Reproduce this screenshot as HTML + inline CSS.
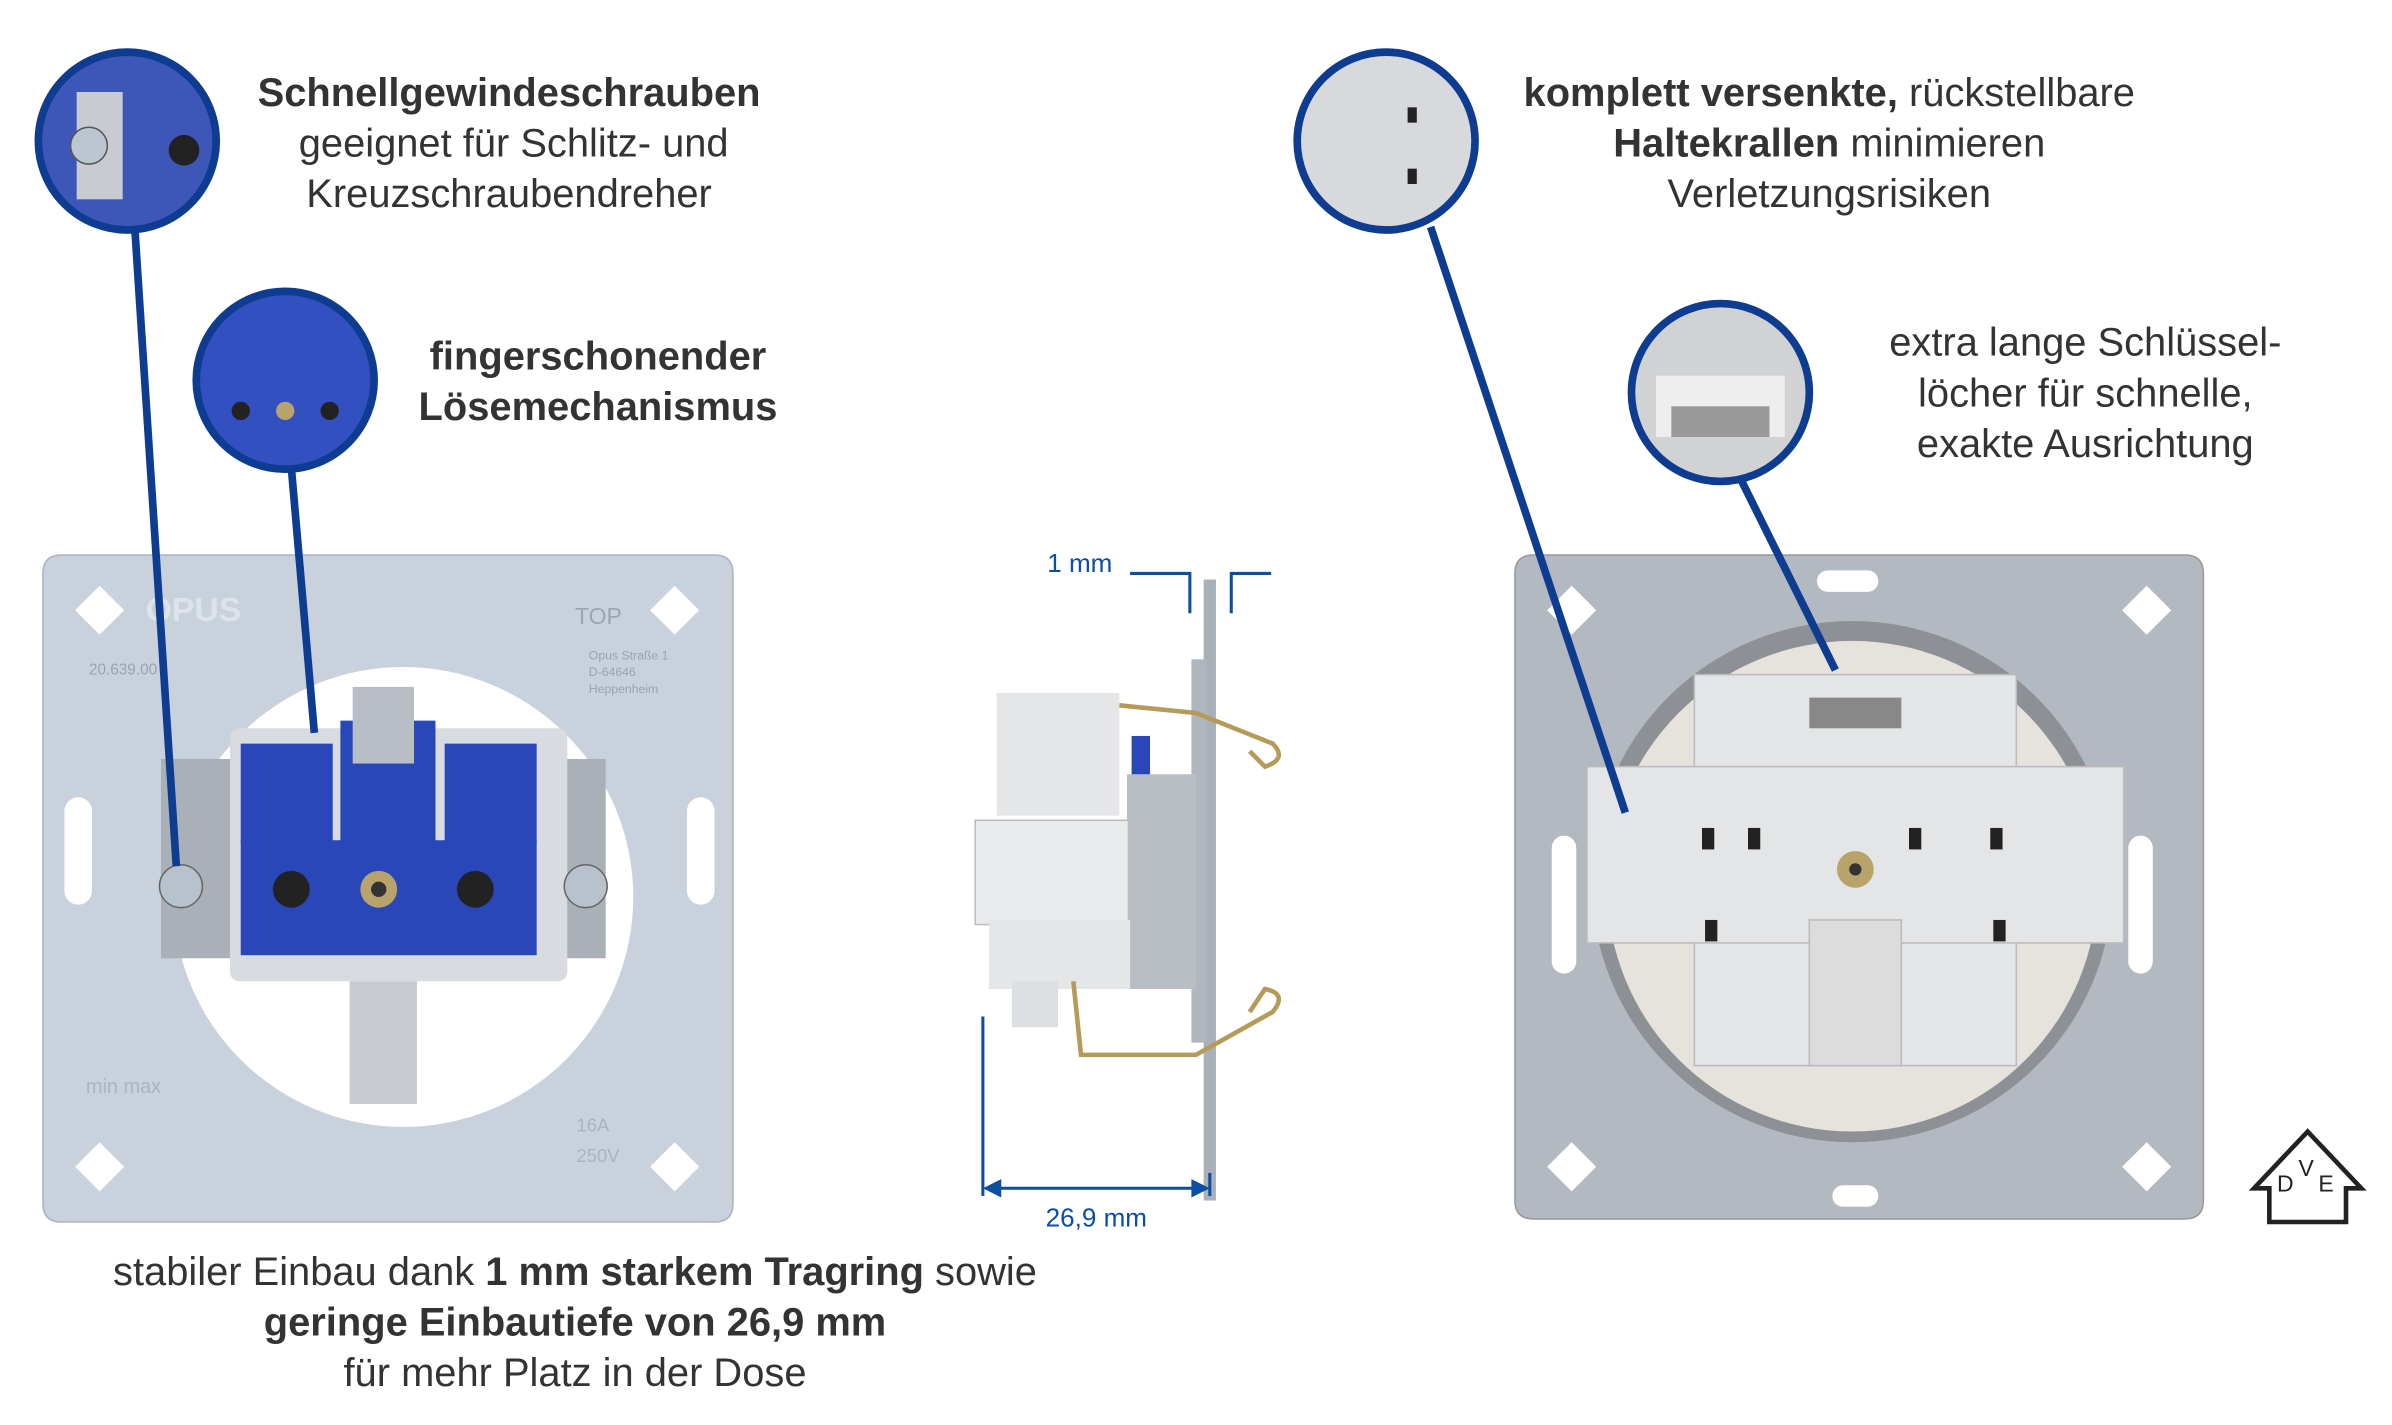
<!DOCTYPE html>
<html><head><meta charset="utf-8"><style>
html,body{margin:0;padding:0;background:#fff;}
svg{display:block;}
text{font-family:"Liberation Sans",sans-serif;fill:#333;}
</style></head><body>
<svg width="2392" height="1425" viewBox="0 0 1560 929.4" preserveAspectRatio="none" xmlns="http://www.w3.org/2000/svg">
<!-- left plate -->
<path d="M40 362 H466 Q478 362 478 374 V785 Q478 797 466 797 H40 Q28 797 28 785 V374 Q28 362 40 362Z" fill="#c9d2dc" stroke="#aab4c0"/>
<circle cx="263" cy="585" r="150" fill="#fff"/>
<g fill="#fff"><path d="M65 382 l16 16 -16 16 -16 -16z"/><path d="M440 382 l16 16 -16 16 -16 -16z"/><path d="M65 745 l16 16 -16 16 -16 -16z"/><path d="M440 745 l16 16 -16 16 -16 -16z"/>
<rect x="42" y="520" width="18" height="70" rx="9"/><rect x="448" y="520" width="18" height="70" rx="9"/></g>
<text x="95" y="405" font-size="22" font-weight="bold" style="fill:#dde3ea">OPUS</text>
<text x="375" y="407" font-size="15" style="fill:#9aa5b2">TOP</text>
<text x="58" y="440" font-size="10" style="fill:#98a3b0">20.639.00</text>
<text x="384" y="430" font-size="8" style="fill:#98a3b0">Opus Straße 1</text>
<text x="384" y="441" font-size="8" style="fill:#98a3b0">D-64646</text>
<text x="384" y="452" font-size="8" style="fill:#98a3b0">Heppenheim</text>
<text x="56" y="713" font-size="13" style="fill:#aab4c0">min  max</text>
<text x="376" y="738" font-size="12" style="fill:#aab4c0">16A</text>
<text x="376" y="758" font-size="12" style="fill:#aab4c0">250V</text>
<!-- left socket -->
<rect x="105" y="495" width="50" height="130" fill="#a9b0b8"/>
<rect x="345" y="495" width="50" height="130" fill="#a9b0b8"/>
<rect x="150" y="475" width="220" height="165" rx="6" fill="#d8dce0"/>
<rect x="157" y="485" width="60" height="65" fill="#2947b8"/>
<rect x="222" y="470" width="62" height="80" fill="#2947b8"/>
<rect x="290" y="485" width="60" height="65" fill="#2947b8"/>
<rect x="157" y="548" width="193" height="75" fill="#2947b8"/>
<rect x="230" y="448" width="40" height="50" fill="#b8bec6"/>
<rect x="228" y="640" width="44" height="80" fill="#c8ccd2"/>
<circle cx="190" cy="580" r="12" fill="#222"/><circle cx="247" cy="580" r="12" fill="#b8a36a"/><circle cx="247" cy="580" r="5" fill="#333"/><circle cx="310" cy="580" r="12" fill="#222"/>
<circle cx="118" cy="578" r="14" fill="#b8c2cc" stroke="#666"/><circle cx="382" cy="578" r="14" fill="#b8c2cc" stroke="#666"/>
<!-- side view -->
<rect x="785" y="378" width="8" height="405" fill="#a9b0b8"/>
<rect x="777" y="430" width="10" height="250" fill="#b0b6bd"/>
<rect x="735" y="505" width="45" height="140" fill="#b8bec4"/>
<rect x="650" y="452" width="80" height="80" fill="#e4e6e8"/>
<rect x="636" y="535" width="100" height="68" fill="#e8eaec" stroke="#bbb"/>
<rect x="645" y="600" width="92" height="45" fill="#e4e6e8"/>
<rect x="660" y="640" width="30" height="30" fill="#dcdfe2"/>
<rect x="738" y="480" width="12" height="25" fill="#2947b8"/>
<g stroke="#b59a5a" stroke-width="3" fill="none"><path d="M730 460 L780 465 L830 485 Q840 495 825 500 L815 490"/><path d="M700 640 L705 688 L780 688 L830 660 Q840 648 825 645 L815 660"/></g>
<g stroke="#0d4ea0" stroke-width="2" fill="none"><path d="M737 374 H776 V400"/><path d="M829 374 H803 V400"/><line x1="641" y1="663" x2="641" y2="780"/><line x1="789" y1="765" x2="789" y2="780"/><line x1="650" y1="775" x2="780" y2="775"/></g>
<path d="M641 775 l12 -6 v12z M789 775 l-12 -6 v12z" fill="#0d4ea0"/>
<text x="683" y="373" font-size="17" style="fill:#0d4ea0">1 mm</text>
<text x="715" y="800" font-size="17" text-anchor="middle" style="fill:#0d4ea0">26,9 mm</text>
<!-- right plate -->
<path d="M1000 362 H1425 Q1437 362 1437 374 V783 Q1437 795 1425 795 H1000 Q988 795 988 783 V374 Q988 362 1000 362Z" fill="#b3b9c0" stroke="#999"/>
<circle cx="1208" cy="575" r="170" fill="#8d9094"/>
<circle cx="1208" cy="578" r="160" fill="#e6e2dc"/>
<g fill="#fff"><path d="M1025 382 l16 16 -16 16 -16 -16z"/><path d="M1400 382 l16 16 -16 16 -16 -16z"/><path d="M1025 745 l16 16 -16 16 -16 -16z"/><path d="M1400 745 l16 16 -16 16 -16 -16z"/>
<rect x="1012" y="545" width="16" height="90" rx="8"/><rect x="1388" y="545" width="16" height="90" rx="8"/><rect x="1195" y="773" width="30" height="14" rx="7"/><rect x="1185" y="372" width="40" height="14" rx="7"/></g>
<rect x="1105" y="440" width="210" height="255" fill="#e4e5e6" stroke="#bbb"/>
<rect x="1035" y="500" width="350" height="115" fill="#e4e5e6" stroke="#bbb"/>
<rect x="1180" y="455" width="60" height="20" fill="#888"/>
<rect x="1180" y="600" width="60" height="95" fill="#dcdcdc" stroke="#bbb"/>
<circle cx="1210" cy="567" r="12" fill="#b8a36a"/><circle cx="1210" cy="567" r="4" fill="#333"/>
<g fill="#222"><rect x="1110" y="540" width="8" height="14"/><rect x="1140" y="540" width="8" height="14"/><rect x="1245" y="540" width="8" height="14"/><rect x="1298" y="540" width="8" height="14"/><rect x="1112" y="600" width="8" height="14"/><rect x="1300" y="600" width="8" height="14"/></g>
<!-- callout lines -->
<g stroke="#0d3c91" stroke-width="5"><line x1="88" y1="150" x2="115" y2="565"/><line x1="190" y1="305" x2="205" y2="478"/><line x1="933" y1="148" x2="1060" y2="530"/><line x1="1135" y1="312" x2="1197" y2="437"/></g>
<!-- callout circles -->
<g stroke="#0d3c91" stroke-width="5">
<circle cx="83" cy="92" r="58" fill="#3d57b8"/>
<circle cx="186" cy="248" r="58" fill="#3350c0"/>
<circle cx="904" cy="92" r="58" fill="#d7d9dc"/>
<circle cx="1122" cy="256" r="58" fill="#d0d2d4"/>
</g>
<rect x="50" y="60" width="30" height="70" fill="#c8ccd2"/><circle cx="58" cy="95" r="12" fill="#bcc6d0" stroke="#555"/><circle cx="120" cy="98" r="10" fill="#222"/>
<circle cx="157" cy="268" r="6" fill="#222"/><circle cx="186" cy="268" r="6" fill="#b8a36a"/><circle cx="215" cy="268" r="6" fill="#222"/>
<rect x="1080" y="245" width="84" height="40" fill="#eee"/><rect x="1090" y="265" width="64" height="20" fill="#999"/>
<rect x="918" y="70" width="6" height="10" fill="#222"/><rect x="918" y="110" width="6" height="10" fill="#222"/>
<!-- texts -->
<g text-anchor="middle" font-size="26">
<text x="332" y="69" font-weight="bold">Schnellgewindeschrauben</text>
<text x="335" y="102">geeignet für Schlitz- und</text>
<text x="332" y="135">Kreuzschraubendreher</text>
<text x="390" y="241" font-weight="bold">fingerschonender</text>
<text x="390" y="274" font-weight="bold">Lösemechanismus</text>
<text x="375" y="838">stabiler Einbau dank <tspan font-weight="bold">1 mm starkem Tragring</tspan> sowie</text>
<text x="375" y="871" font-weight="bold">geringe Einbautiefe von 26,9 mm</text>
<text x="375" y="904">für mehr Platz in der Dose</text>
<text x="1193" y="69"><tspan font-weight="bold">komplett versenkte,</tspan> rückstellbare</text>
<text x="1193" y="102"><tspan font-weight="bold">Haltekrallen</tspan> minimieren</text>
<text x="1193" y="135">Verletzungsrisiken</text>
<text x="1360" y="232">extra lange Schlüssel-</text>
<text x="1360" y="265">löcher für schnelle,</text>
<text x="1360" y="298">exakte Ausrichtung</text>
</g>
<!-- VDE -->
<path d="M1505 738 L1540 775 L1530 775 L1530 797 L1480 797 L1480 775 L1470 775Z" fill="none" stroke="#222" stroke-width="3"/>
<text x="1485" y="777" font-size="15" style="fill:#222">D</text><text x="1499" y="767" font-size="15" style="fill:#222">V</text><text x="1512" y="777" font-size="15" style="fill:#222">E</text>
</svg>
</body></html>
